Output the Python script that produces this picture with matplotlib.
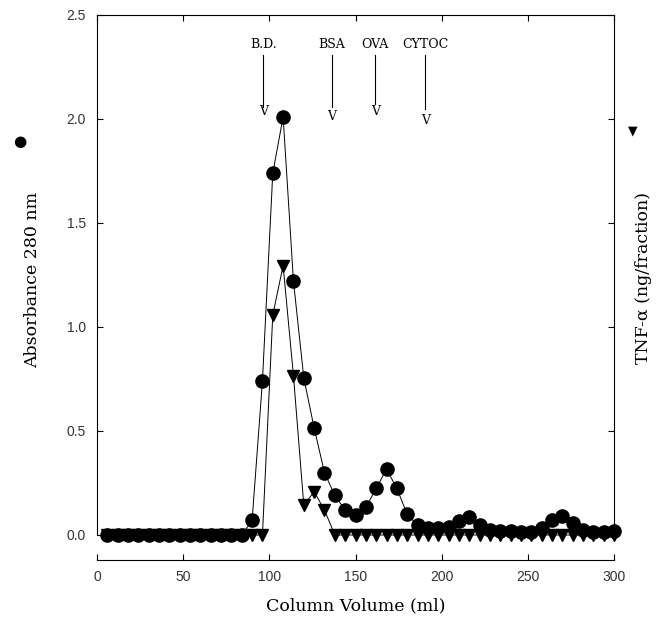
import numpy as np
import matplotlib
matplotlib.use('Agg')
import matplotlib.pyplot as plt

# column volume (ml) of each fraction
volume = [6, 12, 18, 24, 30, 36, 42, 48, 54, 60, 66, 72, 78, 84, 90,
          96, 102, 108, 114, 120, 126, 132, 138, 144, 150, 156, 162, 168, 174, 180,
          186, 192, 198, 204, 210, 216, 222, 228, 234, 240, 246, 252, 258, 264, 270,
          276, 282, 288, 294, 300]

# absorbance at 280 nm (circles)
absorb = [0.0, 0.0, 0.0, 0.0, 0.0, 0.0, 0.0, 0.0, 0.0, 0.0, 0.0, 0.0, 0.0, 0.0, 0.07,
          0.74, 1.74, 2.01, 1.22, 0.755, 0.515, 0.30, 0.19, 0.12, 0.096, 0.133, 0.224, 0.317, 0.224, 0.099,
          0.048, 0.032, 0.032, 0.04, 0.069, 0.088, 0.048, 0.024, 0.019, 0.019, 0.014, 0.014, 0.032, 0.072, 0.093,
          0.056, 0.024, 0.014, 0.014, 0.019]

# TNF-alpha (triangles), plotted on the same scale
tnf = [0.0, 0.0, 0.0, 0.0, 0.0, 0.0, 0.0, 0.0, 0.0, 0.0, 0.0, 0.0, 0.0, 0.0, 0.0,
       0.0, 1.058, 1.295, 0.765, 0.144, 0.208, 0.12, 0.0, 0.0, 0.0, 0.0, 0.0, 0.0, 0.0, 0.0,
       0.0, 0.0, 0.0, 0.0, 0.0, 0.0, 0.0, 0.0, 0.0, 0.0, 0.0, 0.0, 0.0, 0.0, 0.0,
       0.0, 0.0, 0.0, 0.0, 0.0]

# size markers
markers = ['B.D.', 'BSA', 'OVA', 'CYTOC']
marker_x = [96.5, 136.4, 161.5, 190.5]
marker_line_bottom = [2.06, 2.06, 2.07, 2.05]
marker_v = [2.038, 2.01, 2.034, 1.995]

xticks = [0, 50, 100, 150, 200, 250, 300]
yticks = [0.0, 0.5, 1.0, 1.5, 2.0, 2.5]

fig = plt.figure(figsize=(6.69, 6.33), dpi=100)
ax = fig.add_axes([97/669, 1 - 535/633, (614-97)/669, (535-15)/633])

ax.plot(volume, tnf, color='black', lw=0.7, marker='v', ms=8, mec='black', mfc='black',
        clip_on=False, zorder=3)
ax.plot(volume, absorb, color='black', lw=0.7, marker='o', ms=9.5, mec='black', mfc='black',
        clip_on=False, zorder=4)

serif = 'DejaVu Serif'
for name, mx, lb, vy in zip(markers, marker_x, marker_line_bottom, marker_v):
    ax.text(mx, 2.356, name, ha='center', va='center', fontsize=9, family=serif)
    ax.plot([mx, mx], [2.31, lb], color='black', lw=0.8)
    ax.text(mx, vy, 'V', ha='center', va='center', fontsize=9, family=serif)

ax.set_xlim(0, 300)
ax.set_ylim(0, 2.5)
ax.set_xticks(xticks)
ax.set_yticks(yticks)
ax.set_yticklabels(['%.1f' % t for t in yticks])

ax.spines['bottom'].set_position(('outward', 18))
for s in ax.spines.values():
    s.set_linewidth(0.8)

ax.tick_params(axis='both', direction='in', length=4, width=0.8,
               labelsize=10, colors='black')
ax.tick_params(axis='x', top=True, pad=7)
ax.tick_params(axis='y', right=True, labelright=False, pad=8)
for lab in ax.get_xticklabels() + ax.get_yticklabels():
    lab.set_family('Liberation Sans')
    lab.set_color('#333333')

ax.set_xlabel('Column Volume (ml)', fontsize=12.5, family=serif, labelpad=10)

fig.text(33/669, 1 - 280/633, 'Absorbance 280 nm', rotation=90, ha='center', va='center',
         fontsize=12.5, family=serif)
fig.text(20/669, 1 - 141/633, '●', ha='center', va='center', fontsize=11)
fig.text(644/669, 1 - 278/633, 'TNF-α (ng/fraction)', rotation=90, ha='center', va='center',
         fontsize=12.5, family=serif)
fig.text(633/669, 1 - 131/633, '▼', ha='center', va='center', fontsize=9)

fig.savefig('out.png', dpi=100)
